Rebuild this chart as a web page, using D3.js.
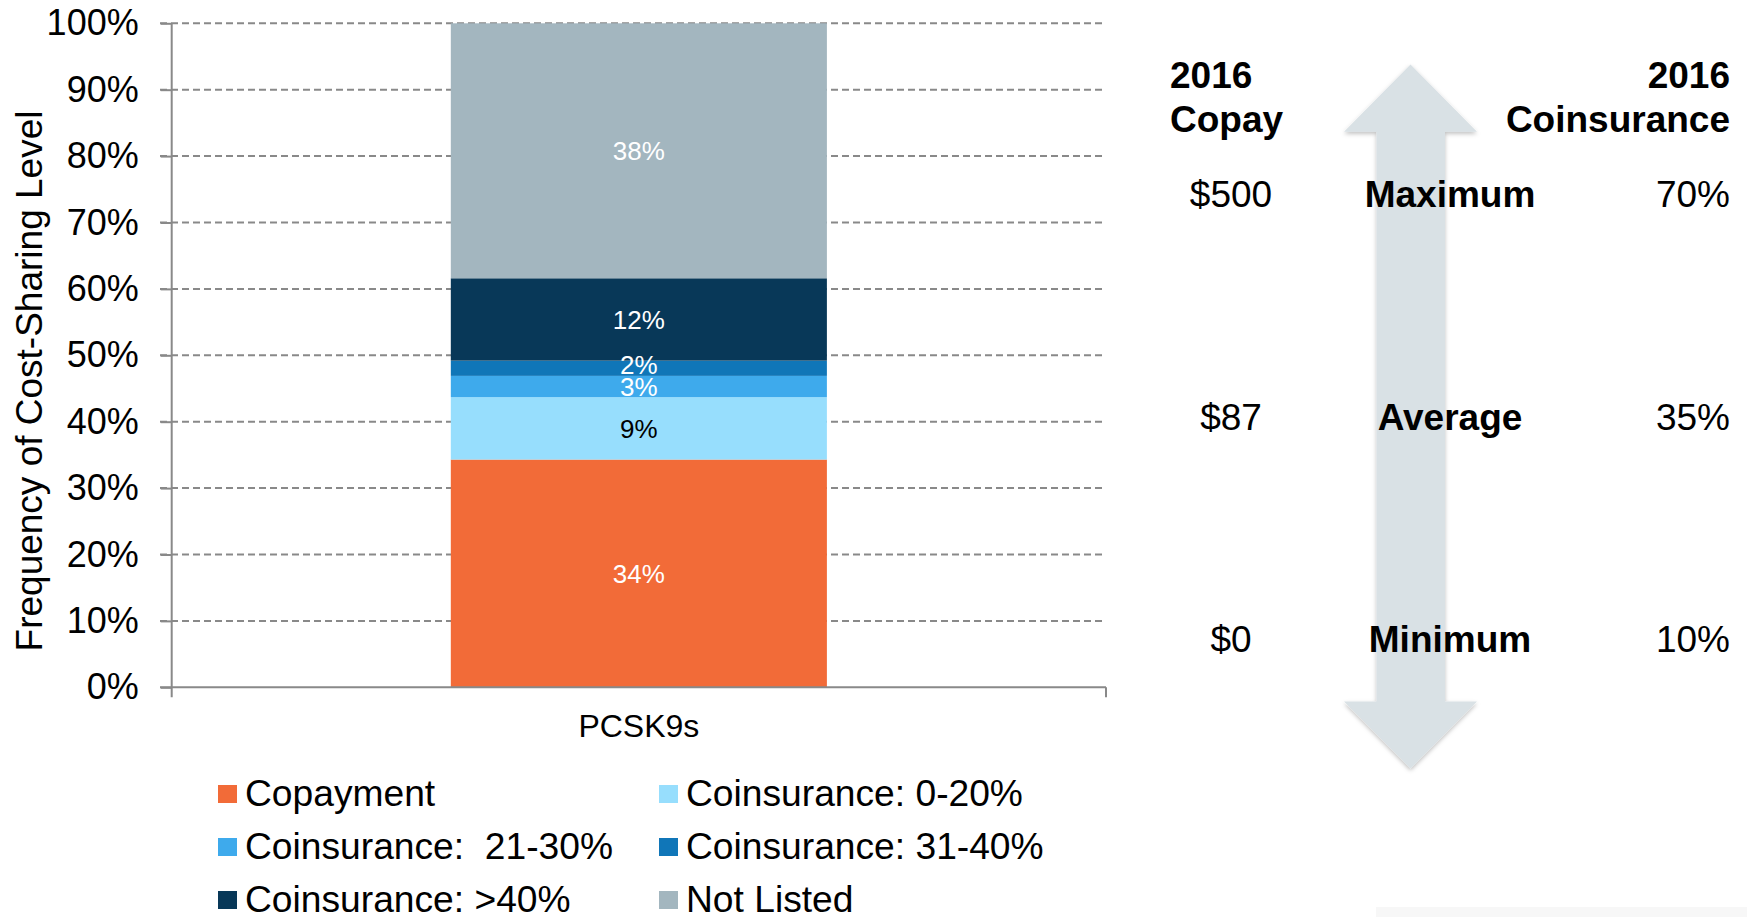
<!DOCTYPE html>
<html>
<head>
<meta charset="utf-8">
<script src="https://cdn.jsdelivr.net/npm/d3@7"></script>
<style>
  body { margin: 0; background: #fff; }
  svg { display: block; font-family: 'Liberation Sans', Arial, sans-serif; }
  text { white-space: pre; }
</style>
</head>
<body>
<svg id="chart" width="1747" height="917" viewBox="0 0 1747 917"></svg>
<script>
/* global d3 */

// chart data
const categories = ['PCSK9s'];
const seriesNames = ['Copayment', 'Coinsurance: 0-20%', 'Coinsurance:  21-30%', 'Coinsurance: 31-40%', 'Coinsurance: >40%', 'Not Listed'];
const shares = [0.343, 0.094, 0.032, 0.023, 0.124, 0.384];
const barLabels = ['34%', '9%', '3%', '2%', '12%', '38%'];
const seriesColors = ['#f26b38', '#97defd', '#3eaaec', '#1076b8', '#083858', '#a3b6bf'];
const labelColors = ['#fff', '#000', '#fff', '#fff', '#fff', '#fff'];
const labelNudge = [0, 0, 0, -4, 0, 0]; // small labels sit a bit higher in the original
const yTicks = [0, 0.1, 0.2, 0.3, 0.4, 0.5, 0.6, 0.7, 0.8, 0.9, 1];

// right hand panel
const panelRows = ['Maximum', 'Average', 'Minimum'];
const copayValues = ['$500', '$87', '$0'];
const coinsuranceValues = ['70%', '35%', '10%'];

const svg = d3.select('#chart');
const gridColor = '#898989';

const x = d3.scaleBand().domain(categories).range([171.7, 1106]).padding(0.426);
const y = d3.scaleLinear().domain([0, 1]).range([687.3, 23.3]);

const table = categories.map(c => {
  const row = { category: c };
  seriesNames.forEach((s, i) => { row[s] = shares[i]; });
  return row;
});
const stacked = d3.stack().keys(seriesNames)(table);

// gridlines
svg.append('g').selectAll('line').data(yTicks.filter(d => d > 0)).enter().append('line')
  .attr('x1', 160).attr('x2', x.range()[1])
  .attr('y1', d => y(d)).attr('y2', d => y(d))
  .attr('stroke', gridColor).attr('stroke-width', 2).attr('stroke-dasharray', '7,4');

// stacked bar
const bars = svg.append('g');
bars.selectAll('rect').data(stacked).enter().append('rect')
  .attr('x', d => x(d[0].data.category))
  .attr('y', d => y(d[0][1]))
  .attr('width', x.bandwidth())
  .attr('height', d => y(d[0][0]) - y(d[0][1]))
  .attr('fill', (d, i) => seriesColors[i]);

bars.selectAll('text').data(stacked).enter().append('text')
  .attr('x', d => x(d[0].data.category) + x.bandwidth() / 2)
  .attr('y', (d, i) => y((d[0][0] + d[0][1]) / 2) + labelNudge[i])
  .attr('dy', '0.36em')
  .attr('text-anchor', 'middle')
  .attr('font-size', 26)
  .attr('fill', (d, i) => labelColors[i])
  .text((d, i) => barLabels[i]);

// axes
const yAxis = d3.axisLeft(y).tickValues(yTicks).tickFormat(d3.format('.0%')).tickSize(11).tickPadding(22);
const gy = svg.append('g').attr('transform', 'translate(' + x.range()[0] + ',0)').call(yAxis);
gy.select('.domain').remove();
gy.selectAll('line').attr('stroke', gridColor).attr('stroke-width', 2);
gy.selectAll('text').attr('font-size', 36).attr('fill', '#000').attr('font-family', null);

svg.append('line')
  .attr('x1', x.range()[0]).attr('x2', x.range()[0])
  .attr('y1', y(1)).attr('y2', y(0) + 10)
  .attr('stroke', gridColor).attr('stroke-width', 2);

const xAxis = d3.axisBottom(x).tickSize(0).tickPadding(27);
const gx = svg.append('g').attr('transform', 'translate(0,' + y(0) + ')').call(xAxis);
gx.select('.domain').remove();
gx.selectAll('text').attr('font-size', 32).attr('fill', '#000').attr('font-family', null);

svg.append('line')
  .attr('x1', 160).attr('x2', x.range()[1])
  .attr('y1', y(0)).attr('y2', y(0))
  .attr('stroke', gridColor).attr('stroke-width', 2);
svg.append('line')
  .attr('x1', x.range()[1]).attr('x2', x.range()[1])
  .attr('y1', y(0)).attr('y2', y(0) + 10)
  .attr('stroke', gridColor).attr('stroke-width', 2);

svg.append('text')
  .attr('transform', 'translate(42,381) rotate(-90)')
  .attr('text-anchor', 'middle')
  .attr('font-size', 37)
  .text('Frequency of Cost-Sharing Level');

// legend
const legend = svg.append('g');
const legendItems = legend.selectAll('g').data(seriesNames).enter().append('g')
  .attr('transform', (d, i) => 'translate(' + (i % 2 === 0 ? 218 : 659) + ',' + (785 + Math.floor(i / 2) * 53) + ')');
legendItems.append('rect').attr('width', 19).attr('height', 18).attr('fill', (d, i) => seriesColors[i]);
legendItems.append('text').attr('x', 27).attr('y', 21).attr('font-size', 37.2).text(d => d);

// arrow between min and max
const defs = svg.append('defs');
const shadow = defs.append('filter').attr('id', 'shadow').attr('x', '-20%').attr('y', '-20%').attr('width', '140%').attr('height', '140%');
shadow.append('feDropShadow').attr('dx', 0).attr('dy', 2).attr('stdDeviation', 2).attr('flood-color', '#000').attr('flood-opacity', 0.25);

const arrowX = 1410.5;
const arrowPts = [
  [arrowX, 64.5], [1477, 131.7], [1445, 131.7], [1445, 701.5], [1477, 701.5],
  [arrowX, 768.5], [1344, 701.5], [1376.5, 701.5], [1376.5, 131.7], [1344, 131.7]
];
svg.append('polygon')
  .attr('points', arrowPts.map(p => p.join(',')).join(' '))
  .attr('fill', '#d9e1e5')
  .attr('filter', 'url(#shadow)');

svg.append('rect').attr('x', 1376).attr('y', 907).attr('width', 371).attr('height', 10).attr('fill', '#f7f7f7');

// panel text
const rowY = d3.scalePoint().domain(panelRows).range([207, 652]);
const panel = svg.append('g').attr('font-size', 37);

panel.append('text').attr('x', 1170).attr('y', 88).attr('font-weight', 'bold').text('2016');
panel.append('text').attr('x', 1170).attr('y', 131.7).attr('font-weight', 'bold').text('Copay');
panel.append('text').attr('x', 1730).attr('y', 88).attr('font-weight', 'bold').attr('text-anchor', 'end').text('2016');
panel.append('text').attr('x', 1730).attr('y', 131.7).attr('font-weight', 'bold').attr('text-anchor', 'end').text('Coinsurance');

panel.selectAll('.copay').data(panelRows).enter().append('text')
  .attr('class', 'copay')
  .attr('x', 1231).attr('y', d => rowY(d)).attr('text-anchor', 'middle')
  .text((d, i) => copayValues[i]);
panel.selectAll('.level').data(panelRows).enter().append('text')
  .attr('class', 'level')
  .attr('x', 1450).attr('y', d => rowY(d)).attr('text-anchor', 'middle').attr('font-weight', 'bold')
  .text(d => d);
panel.selectAll('.coins').data(panelRows).enter().append('text')
  .attr('class', 'coins')
  .attr('x', 1730).attr('y', d => rowY(d)).attr('text-anchor', 'end')
  .text((d, i) => coinsuranceValues[i]);
</script>
</body>
</html>
